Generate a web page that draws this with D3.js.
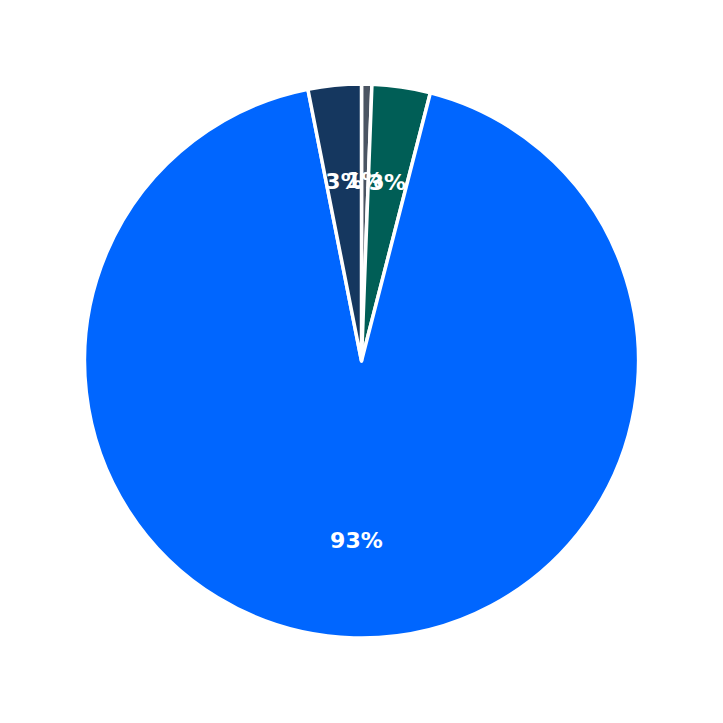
<!DOCTYPE html>
<html>
<head>
<meta charset="utf-8">
<script src="https://cdn.jsdelivr.net/npm/d3@7"></script>
<style>
  html, body { margin: 0; padding: 0; background: #fff; }
</style>
</head>
<body>
<div id="chart"></div>
<script>
// slice values, clockwise from 12 o'clock
var categories = ["A", "B", "C", "D"];
var values = [0.6, 3.4, 92.9, 3.1];
var labels = ["1%", "3%", "93%", "3%"];
var colors = ["#4b5563", "#005e56", "#0066ff", "#15375f"];

var width = 723, height = 723,
    cx = 361.5, cy = 361,
    radius = 277;

var svg = d3.select("#chart")
    .append("svg")
    .attr("width", width)
    .attr("height", height)
    .append("g")
    .attr("transform", "translate(" + cx + "," + cy + ")");

var slices = categories.map(function (c, i) {
    return { name: c, value: values[i], label: labels[i], color: colors[i] };
});

var pie = d3.pie()
    .sort(null)
    .value(d => d.value);

var arc = d3.arc()
    .innerRadius(0)
    .outerRadius(radius);

var labelArc = d3.arc()
    .innerRadius(radius * 0.65)
    .outerRadius(radius * 0.65);

var arcs = pie(slices);

svg.selectAll(".slice")
    .data(arcs)
    .enter()
    .append("path")
    .attr("class", "slice")
    .attr("d", arc)
    .attr("fill", d => d.data.color)
    .attr("stroke", "#fff")
    .attr("stroke-width", 3.5)
    .attr("stroke-linejoin", "round");

svg.selectAll(".label")
    .data(arcs)
    .enter()
    .append("text")
    .attr("class", "label")
    .attr("transform", d => "translate(" + labelArc.centroid(d) + ")")
    .attr("text-anchor", "middle")
    .attr("dominant-baseline", "central")
    .style("font-family", "DejaVu Sans, sans-serif")
    .style("font-weight", "bold")
    .style("font-size", "22px")
    .style("fill", "#fff")
    .text(d => d.data.label);
</script>
</body>
</html>
